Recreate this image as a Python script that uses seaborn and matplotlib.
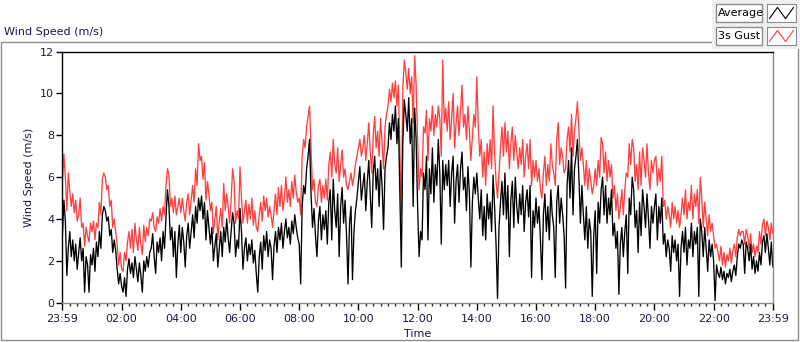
import numpy as np
import pandas as pd
import matplotlib
matplotlib.use('Agg')
import matplotlib.pyplot as plt
import seaborn as sns
from matplotlib.patches import Rectangle

# 3-minute samples starting at 23:59, one row per hour
avg_speed = [
    3.2, 4.9, 3.9, 1.3, 2.6, 3.4, 2.2, 3.0, 2.0, 2.8, 1.6, 2.4, 3.1, 2.0, 2.6, 0.5, 2.2, 1.8, 0.5, 2.3,
    1.8, 2.6, 1.5, 2.9, 2.2, 3.4, 2.6, 4.2, 4.6, 4.4, 3.9, 4.1, 3.2, 3.5, 2.4, 3.0, 2.5, 1.6, 0.9, 1.4,
    0.8, 0.5, 1.2, 0.3, 1.6, 2.1, 1.4, 1.9, 1.2, 2.2, 1.6, 1.0, 1.9, 1.3, 0.5, 2.0, 1.5, 2.2, 1.7, 2.4,
    2.6, 3.3, 2.2, 1.4, 2.9, 2.4, 3.1, 2.0, 3.4, 2.6, 4.1, 5.4, 4.6, 3.0, 3.6, 2.2, 3.4, 1.2, 2.8, 3.7,
    2.4, 3.6, 2.9, 1.7, 3.2, 3.8, 2.6, 3.4, 4.2, 3.1, 4.6, 3.8, 5.0, 4.4, 5.1, 4.0, 4.8, 3.0, 4.4, 3.6,
    2.8, 3.6, 2.0, 2.7, 3.3, 1.7, 2.6, 3.4, 2.2, 3.6, 2.9, 4.0, 3.1, 2.4, 3.4, 4.3, 3.8, 2.2, 3.0, 2.6,
    4.5, 3.4, 1.6, 2.6, 3.1, 2.0, 2.8, 2.3, 3.0, 1.9, 2.5, 1.4, 0.5, 2.2, 2.9, 1.6, 3.2, 2.5, 3.4, 2.2,
    3.0, 2.6, 1.1, 2.7, 3.4, 2.4, 3.6, 3.0, 3.8, 2.6, 3.4, 4.0, 3.1, 3.6, 2.8, 3.9, 3.3, 4.2, 3.6, 3.1,
    2.8, 0.9, 4.6, 5.6, 5.2, 6.4, 7.0, 7.8, 5.2, 3.6, 4.5, 3.2, 2.2, 3.9, 4.6, 3.0, 4.2, 3.5, 4.4, 2.8,
    4.8, 5.4, 3.0, 5.9, 4.4, 3.6, 5.2, 2.2, 4.6, 5.5, 3.8, 4.9, 3.2, 0.9, 3.8, 4.6, 1.1, 3.4, 4.4, 5.0,
    5.8, 6.5, 4.9, 5.6, 6.2, 4.4, 5.8, 6.8, 5.2, 3.6, 6.2, 7.0, 5.4, 6.4, 4.6, 6.8, 5.6, 3.5, 6.4, 7.0,
    7.4, 8.6, 7.8, 9.0, 8.2, 9.4, 7.6, 8.8, 5.2, 1.7, 7.6, 9.7, 9.0, 8.2, 9.8, 7.6, 8.8, 4.6, 9.3, 7.8,
    4.6, 2.2, 3.4, 3.0, 6.2, 5.4, 7.0, 3.0, 6.4, 5.2, 7.4, 4.8, 6.6, 5.6, 7.8, 6.2, 2.8, 6.8, 5.4, 6.6,
    5.6, 6.8, 4.6, 6.2, 7.0, 3.8, 5.8, 6.6, 4.8, 6.4, 7.2, 5.4, 6.0, 4.4, 6.5, 5.2, 1.7, 4.8, 6.0, 5.2,
    6.2, 5.0, 4.0, 5.4, 3.2, 4.6, 3.0, 5.2, 4.0, 4.8, 3.4, 6.1, 4.6, 2.8, 0.2, 3.6, 4.8, 5.8, 4.2, 6.2,
    4.0, 5.6, 2.2, 4.9, 5.8, 3.6, 6.0, 4.6, 3.8, 5.2, 4.2, 5.6, 3.4, 4.8, 5.4, 4.1, 5.6, 1.2, 4.4, 3.6,
    5.0, 3.8, 4.6, 3.0, 1.1, 4.2, 5.2, 3.4, 4.6, 3.0, 5.4, 4.2, 3.6, 1.2, 4.8, 5.6, 3.8, 5.0, 4.2, 3.2,
    0.7, 5.6, 6.8, 5.0, 7.4, 4.2, 6.4, 7.0, 7.8, 6.0, 3.8, 5.6, 4.2, 3.0, 4.6, 2.6, 4.0, 3.4, 0.3, 3.2,
    4.4, 1.4, 4.8, 3.8, 5.4, 6.0, 4.2, 5.6, 3.8, 5.0, 4.2, 5.4, 3.2, 3.8, 2.6, 3.4, 0.4, 2.8, 3.6, 2.2,
    3.4, 4.2, 1.4, 5.0, 4.2, 6.0, 5.4, 3.6, 4.4, 2.4, 4.8, 3.2, 5.4, 4.6, 3.6, 5.2, 4.0, 2.6, 4.6, 3.8,
    4.6, 5.2, 3.0, 4.6, 3.8, 5.0, 2.8, 3.3, 2.2, 3.0, 2.6, 1.5, 3.2, 2.4, 3.0, 2.0, 2.8, 0.3, 2.6, 3.4,
    2.4, 3.6, 1.8, 3.0, 2.6, 3.8, 2.2, 3.4, 2.8, 3.6, 0.3, 4.0, 3.4, 2.2, 3.6, 2.6, 1.5, 3.0, 2.2, 2.8,
    2.0, 0.1, 1.8, 1.4, 1.2, 1.7, 1.1, 1.5, 0.9, 1.4, 1.2, 1.6, 1.0, 1.5, 1.8, 1.3, 2.2, 2.8, 2.6, 3.0,
    2.8, 1.4, 2.9, 2.6, 2.0, 2.8, 1.6, 2.2, 1.4, 2.0, 1.5, 2.4, 1.8, 2.9, 3.2, 2.4, 3.3, 2.6, 1.8, 2.9,
    1.7,
]
gust_speed = [
    5.8, 7.1, 6.0, 4.4, 6.2, 5.3, 4.6, 5.2, 4.3, 4.9, 3.9, 4.2, 5.0, 3.6, 3.8, 2.7, 3.6, 3.2, 2.9, 3.8,
    3.4, 3.9, 3.0, 3.8, 3.6, 4.8, 4.2, 5.9, 6.2, 6.0, 5.4, 5.6, 4.6, 4.9, 3.6, 4.0, 3.4, 2.8, 1.8, 2.4,
    1.6, 1.5, 2.4, 2.0, 2.9, 3.4, 2.6, 3.5, 2.4, 3.8, 3.0, 2.5, 3.6, 2.8, 2.3, 3.7, 2.9, 3.6, 3.2, 4.0,
    3.9, 4.3, 3.6, 3.4, 4.1, 3.8, 4.5, 3.9, 4.6, 4.2, 5.6, 6.4, 6.1, 4.6, 5.0, 4.3, 5.1, 4.2, 4.6, 5.0,
    4.3, 5.0, 4.4, 3.9, 4.8, 5.2, 4.2, 4.9, 5.6, 4.8, 6.4, 5.6, 7.6, 6.8, 7.0, 5.9, 6.7, 4.9, 5.8, 5.2,
    4.4, 4.8, 3.3, 4.0, 4.6, 3.0, 3.9, 4.5, 3.6, 5.7, 4.4, 5.2, 4.6, 3.8, 4.9, 6.4, 5.8, 3.8, 4.4, 4.0,
    6.5, 5.0, 3.8, 4.4, 4.9, 3.8, 4.7, 4.0, 5.0, 3.7, 4.4, 3.6, 3.4, 4.2, 4.8, 3.9, 5.1, 4.4, 5.0, 4.1,
    4.6, 4.2, 3.6, 4.4, 5.2, 4.2, 5.5, 4.6, 5.6, 4.4, 5.0, 6.0, 4.8, 5.4, 4.6, 5.8, 5.0, 6.1, 5.3, 4.8,
    5.0, 4.2, 7.0, 7.8, 7.4, 8.4, 8.9, 9.4, 7.4, 5.4, 5.9, 4.8, 4.6, 5.6, 5.9, 4.8, 5.6, 5.0, 5.9, 4.9,
    6.6, 7.2, 6.0, 7.8, 6.6, 6.2, 7.4, 5.8, 6.6, 7.3, 6.0, 6.4, 5.6, 5.4, 5.8, 6.2, 5.6, 6.0, 6.6, 7.0,
    7.4, 7.8, 7.0, 7.4, 8.0, 6.8, 7.6, 8.6, 7.2, 6.2, 8.0, 8.9, 7.4, 8.2, 7.0, 8.8, 7.6, 6.4, 8.4, 9.0,
    9.4, 10.2, 9.6, 10.5, 9.8, 10.6, 9.4, 10.4, 7.2, 4.2, 10.2, 11.6, 11.0, 10.2, 11.2, 10.0, 10.8, 8.6, 11.8, 10.4,
    7.8, 5.4, 6.4, 6.0, 8.4, 8.1, 9.2, 6.8, 8.8, 8.2, 9.4, 8.0, 9.0, 8.4, 9.4, 8.8, 7.0, 11.6, 8.6, 9.3,
    8.2, 9.6, 7.8, 8.8, 10.0, 7.4, 8.6, 9.4, 8.0, 9.2, 10.4, 8.4, 9.0, 7.8, 9.4, 8.2, 6.8, 7.9, 9.0, 8.4,
    10.8, 8.4, 7.0, 7.8, 6.0, 7.2, 5.6, 7.6, 6.6, 7.8, 6.4, 9.4, 7.2, 5.8, 5.0, 6.2, 7.4, 8.4, 7.0, 8.6,
    7.2, 8.2, 6.4, 7.6, 8.4, 6.8, 8.0, 7.2, 6.4, 7.4, 6.6, 7.8, 6.0, 7.0, 7.6, 6.4, 7.8, 5.6, 6.8, 6.0,
    6.8, 5.8, 6.4, 5.4, 5.0, 6.2, 7.0, 5.6, 6.6, 5.8, 7.6, 6.6, 6.2, 5.6, 7.8, 8.6, 6.6, 7.4, 7.0, 6.2,
    6.4, 7.8, 8.4, 7.2, 9.0, 7.0, 8.2, 8.8, 9.6, 8.2, 6.8, 7.4, 6.6, 5.6, 6.8, 5.4, 6.4, 5.8, 5.2, 5.6,
    6.4, 5.6, 6.8, 6.0, 7.9, 7.6, 6.2, 7.2, 5.8, 6.8, 6.0, 6.6, 5.0, 5.6, 4.4, 5.2, 4.0, 4.6, 5.4, 4.2,
    5.4, 6.2, 6.0, 7.6, 6.6, 7.8, 7.4, 5.8, 6.6, 5.4, 7.2, 5.6, 7.4, 6.8, 6.0, 7.6, 6.2, 5.4, 6.8, 6.2,
    6.8, 7.0, 5.6, 6.4, 5.8, 7.0, 4.6, 4.9, 4.0, 4.6, 4.2, 3.6, 4.8, 4.0, 4.6, 3.8, 4.4, 3.6, 4.2, 5.0,
    4.2, 5.4, 4.0, 4.8, 4.4, 5.6, 4.0, 5.2, 4.6, 5.4, 3.8, 6.0, 5.0, 3.6, 4.8, 4.0, 3.2, 4.2, 3.4, 3.8,
    3.2, 2.6, 2.8, 2.4, 2.0, 2.7, 1.8, 2.4, 1.7, 2.3, 2.0, 2.6, 1.9, 2.5, 2.8, 2.2, 3.1, 3.5, 3.2, 3.4,
    3.4, 2.8, 3.5, 3.2, 2.6, 3.3, 2.4, 2.8, 2.2, 2.7, 2.4, 3.4, 2.8, 3.7, 4.0, 3.2, 3.9, 3.6, 3.0, 3.8,
    3.3,
]
tick_labels = ['23:59', '02:00', '04:00', '06:00', '08:00', '10:00', '12:00',
               '14:00', '16:00', '18:00', '20:00', '22:00', '23:59']

minutes = np.arange(len(avg_speed)) * 3
df = pd.DataFrame({'minute': minutes, 'Average': avg_speed, '3s Gust': gust_speed})

sns.set_style('white')
plt.rcParams['font.family'] = ['DejaVu Sans']
text_col = '#1a1a3a'

fig = plt.figure(figsize=(8, 3.42), dpi=100)
ax = fig.add_axes([0.078, 0.115, 0.888, 0.734])

sns.lineplot(data=df, x='minute', y='3s Gust', color='#ff4040', lw=0.95, ax=ax)
sns.lineplot(data=df, x='minute', y='Average', color='black', lw=0.95, ax=ax)

ax.set_xlim(0, 1440)
ax.set_ylim(0, 12)
ax.set_yticks(range(0, 13, 2))
ax.set_xticks(np.arange(0, 1441, 120))
ax.set_xticklabels(tick_labels)
ax.set_xticks(np.arange(0, 1441, 15), minor=True)
ax.tick_params(axis='both', direction='out', labelsize=8, colors='black', labelcolor=text_col)
ax.tick_params(axis='x', which='major', length=5, width=1, bottom=True, pad=3)
ax.tick_params(axis='x', which='minor', length=2.5, width=1, bottom=True)
ax.tick_params(axis='y', length=4, width=1, left=True, pad=2)
ax.set_xlabel('Time', fontsize=8, color=text_col, labelpad=4)
ax.set_ylabel('Wind Speed (m/s)', fontsize=8, color=text_col, labelpad=4)
for side in ['top', 'left']:
    ax.spines[side].set_color('black')
    ax.spines[side].set_linewidth(1)
for side in ['bottom', 'right']:
    ax.spines[side].set_color('#8c8c8c')
    ax.spines[side].set_linewidth(1)

# outer panel frame and title
fig.patches.append(Rectangle((1 / 800, 1 - 340 / 342), 797 / 800, 298 / 342,
                             transform=fig.transFigure, fill=False,
                             edgecolor='#8c8c8c', lw=1, zorder=-2))
fig.patches.append(Rectangle((712 / 800, 1 - 49 / 342), 88 / 800, 49 / 342,
                             transform=fig.transFigure, facecolor='#f0f0f0',
                             edgecolor='none', zorder=-1))
fig.text(4 / 800, 1 - 32 / 342, 'Wind Speed (m/s)', fontsize=8, color=text_col,
         va='center', ha='left')

# legend boxes
for label, col, top in [('Average', 'black', 4), ('3s Gust', '#ff4040', 27)]:
    y0 = 1 - (top + 18) / 342
    fig.patches.append(Rectangle((716 / 800, y0), 46 / 800, 18 / 342,
                                 transform=fig.transFigure, facecolor='white',
                                 edgecolor='#8c8c8c', lw=1, zorder=0))
    fig.text(718 / 800, y0 + 9 / 342, label, fontsize=8, color='black',
             va='center', ha='left')
    lax = fig.add_axes([767 / 800, y0, 29 / 800, 18 / 342], zorder=5)
    lax.plot([0, 1, 2, 3], [0, 1, 0, 1], color=col, lw=0.8)
    lax.set_xlim(-0.3, 3.3)
    lax.set_ylim(-0.3, 1.3)
    lax.set_xticks([])
    lax.set_yticks([])
    for s in lax.spines.values():
        s.set_color('#8c8c8c')

fig.savefig('out.png', dpi=100)
